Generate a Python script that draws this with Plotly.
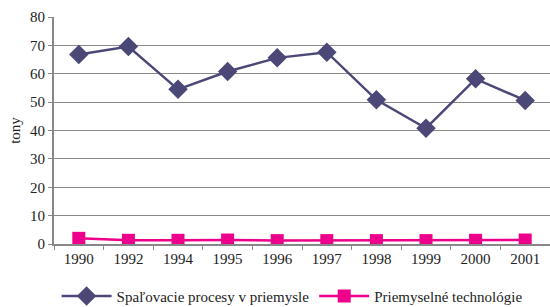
import plotly.graph_objects as go

years = ["1990", "1992", "1994", "1995", "1996", "1997", "1998", "1999", "2000", "2001"]
spalovacie = [66.8, 69.6, 54.5, 60.8, 65.6, 67.6, 50.8, 40.8, 58.2, 50.6]
technologie = [2.0, 1.3, 1.3, 1.4, 1.2, 1.2, 1.2, 1.2, 1.3, 1.4]
y_ticks = [0, 10, 20, 30, 40, 50, 60, 70, 80]

font_family = "Liberation Serif"

fig = go.Figure()
fig.add_trace(go.Scatter(
    x=years, y=spalovacie, mode="lines+markers",
    name="Spaľovacie procesy v priemysle",
    line=dict(color="#4B4878", width=2.5),
    marker=dict(symbol="diamond", size=15, color="#4B4878"),
))
fig.add_trace(go.Scatter(
    x=years, y=technologie, mode="lines+markers",
    name="Priemyselné technológie",
    line=dict(color="#EC008C", width=2.5),
    marker=dict(symbol="square", size=13, color="#EC008C"),
))

fig.update_layout(
    width=550, height=307,
    margin=dict(l=54, r=0, t=17, b=63, autoexpand=False),
    paper_bgcolor="white", plot_bgcolor="white",
    font=dict(family=font_family, size=15, color="#222"),
    showlegend=True,
    legend=dict(orientation="h", x=0.48, xanchor="center", y=-0.23, yanchor="middle",
                font=dict(family=font_family, size=15, color="#222"),
                itemwidth=50, tracegroupgap=0),
    xaxis=dict(
        type="category", range=[-0.5, 9.5], automargin=False,
        showline=True, linecolor="#888", linewidth=1.5,
        ticks="outside", tickson="boundaries", ticklen=4, tickcolor="#888",
        showgrid=False, zeroline=False,
        tickfont=dict(size=15),
    ),
    yaxis=dict(
        range=[0, 80], tickvals=y_ticks, automargin=False,
        showline=True, linecolor="#888", linewidth=2,
        ticks="outside", ticklen=4, tickcolor="#888",
        showgrid=True, gridcolor="#8a8a8a", gridwidth=1,
        zeroline=False,
        title=dict(text="tony", font=dict(size=15), standoff=6),
        tickfont=dict(size=15),
    ),
)

fig.write_html("out.html", config={"displayModeBar": False},
               post_script="document.body.style.margin='0';document.body.style.overflow='hidden';")
